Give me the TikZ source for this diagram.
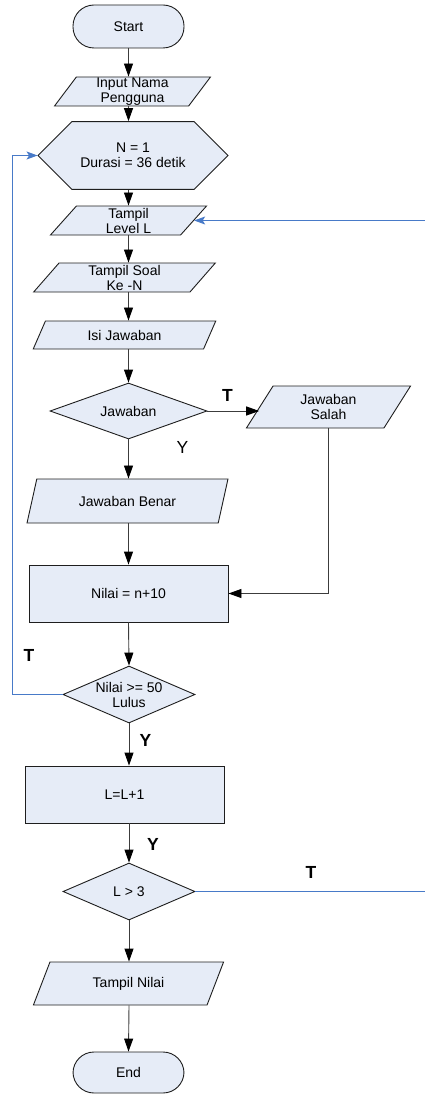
\documentclass[tikz,border=0pt]{standalone}
\usepackage{fontspec}
\setmainfont{Liberation Sans}
\usetikzlibrary{shapes.geometric,shapes.misc,arrows.meta}

\definecolor{shapefill}{RGB}{230,236,247}
\definecolor{shapeline}{RGB}{30,30,30}
\definecolor{linegray}{RGB}{60,60,60}
\definecolor{flowblue}{RGB}{72,122,200}

\newcommand\flowfont{\fontsize{14}{15}\selectfont}
\newcommand\tagfont{\fontsize{17.5}{18}\selectfont}

\tikzset{
  base/.style={draw=shapeline, fill=shapefill, line width=0.9pt, font=\flowfont,
               align=center, inner sep=0pt},
  terminal/.style={base, rectangle, rounded corners=21pt, minimum width=111, minimum height=43},
  io/.style={base, trapezium, trapezium stretches=true},
  process/.style={base, rectangle, minimum width=199, minimum height=57},
  prep/.style={base, chamfered rectangle, chamfered rectangle xsep=27pt,
               chamfered rectangle ysep=21.5pt, minimum width=190, minimum height=43},
  decision/.style={base, diamond},
  arr/.style={draw=linegray, line width=0.9pt, -{Triangle[length=13pt,width=9pt,black]}},
  barr/.style={draw=flowblue, line width=0.9pt, -{Stealth[length=11pt,width=8pt,inset=2.5pt]}},
  tag/.style={font=\tagfont\bfseries, inner sep=0pt},
  tagthin/.style={font=\tagfont, inner sep=0pt},
}

\begin{document}
\begin{tikzpicture}[x=1pt, y=-1pt]
  \useasboundingbox (0,0) rectangle (424,1094);

  % main column of the flow
  \node[terminal] (start) at (128.5,26.5) {Start};
  \node[io, trapezium left angle=63, trapezium right angle=117,
        minimum width=157, minimum height=29] (input) at (132.5,91.5) {Input Nama\\Pengguna};
  \node[prep] (init) at (133,155.5) {N = 1\\Durasi = 36 detik};
  \node[io, trapezium left angle=66, trapezium right angle=114,
        minimum width=157, minimum height=29] (level) at (128.5,220.5) {Tampil\\Level L};
  \node[io, trapezium left angle=61, trapezium right angle=119,
        minimum width=183, minimum height=29] (soal) at (124.5,277.5) {Tampil Soal\\Ke -N};
  \node[io, trapezium left angle=61, trapezium right angle=119,
        minimum width=183, minimum height=28] (isi) at (124.5,335) {Isi Jawaban};
  \node[decision, minimum width=157, minimum height=56] (jaw) at (128.5,411) {};
  \node[font=\flowfont] (jawtxt) at (jaw.center) {Jawaban};
  \node[io, trapezium left angle=62, trapezium right angle=118,
        minimum width=165, minimum height=42] (salah) at (328.5,407) {Jawaban\\Salah};
  \node[io, trapezium left angle=63, trapezium right angle=117,
        minimum width=201, minimum height=44] (benar) at (127.5,501) {Jawaban Benar};
  \node[process] (nilai) at (128.5,593.5) {Nilai = n+10};
  \node[decision, minimum width=132, minimum height=57] (lulus) at (129,694.5) {};
  \node[font=\flowfont, align=center] (lulustxt) at (lulus.center) {Nilai >= 50\\Lulus};
  \node[process] (inc) at (124.5,794.5) {L=L+1};
  \node[decision, minimum width=132, minimum height=57] (cek) at (129,891.5) {};
  \node[font=\flowfont] (cektxt) at (cek.center) {L > 3};
  \node[io, trapezium left angle=60, trapezium right angle=120,
        minimum width=191, minimum height=43] (hasil) at (128.5,983.5) {Tampil Nilai};
  \node[terminal, minimum height=41] (end) at (128.5,1072.5) {End};

  % right-hand return column
  \coordinate (rt) at (425,0);
  \coordinate (lt) at (12.5,0);

  % straight-down connectors
  \draw[arr] (start.south) -- (start.south |- input.north);
  \draw[arr] (start.south |- input.south) -- (start.south |- init.north);
  \draw[arr] (start.south |- init.south) -- (start.south |- level.north);
  \draw[arr] (start.south |- level.south) -- (start.south |- soal.north);
  \draw[arr] (start.south |- soal.south) -- (start.south |- isi.north);
  \draw[arr] (start.south |- isi.south) -- (jaw.north);
  \draw[arr] (jaw.south) -- (jaw.south |- benar.north);
  \draw[arr] (jaw.south |- benar.south) -- (nilai.north);
  \draw[arr] (nilai.south) -- (lulus.north);
  \draw[arr] (lulus.south) -- (lulus.south |- inc.north);
  \draw[arr] (lulus.south |- inc.south) -- (cek.north);
  \draw[arr] (cek.south) -- (cek.south |- hasil.north);
  \draw[arr] (cek.south |- hasil.south) -- (end.north);

  % wrong answer branch
  \draw[arr] (jaw.east) -- (jaw.east -| salah.left side);
  \draw[arr] (salah.south) |- (nilai.east);

  % loops back
  \draw[barr] (lulus.west) -- (lulus.west -| lt) -- (lt |- init.west) -- (init.west);
  \draw[barr] (cek.east) -- (cek.east -| rt) -- (rt |- level.right side) -- (level.right side);

  % branch tags
  \node[tag] (t1) at (227.5,395.5) {T};
  \node[tagthin] (y1) at (182.5,447) {Y};
  \node[tag] (t2) at (29,655.5) {T};
  \node[tag] (y2) at (145.5,740) {Y};
  \node[tag] (y3) at (153,844) {Y};
  \node[tag] (t3) at (311,872.5) {T};
\end{tikzpicture}
\end{document}
